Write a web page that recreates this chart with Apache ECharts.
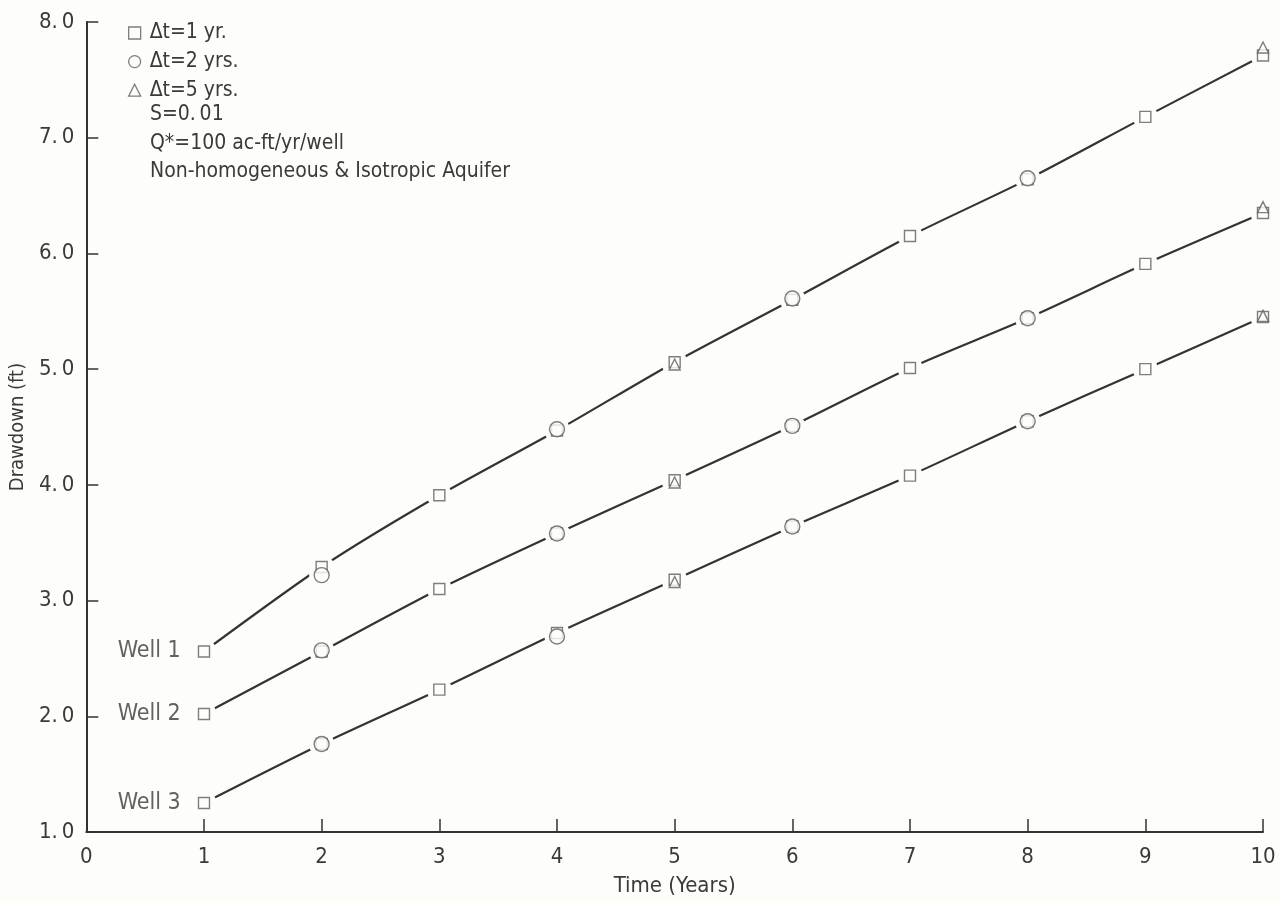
<!DOCTYPE html>
<html>
<head>
<meta charset="utf-8">
<script src="https://cdn.jsdelivr.net/npm/echarts@6/dist/echarts.min.js"></script>
<style>
html,body{margin:0;padding:0;background:#fdfdf9;}
#chart{width:1280px;height:902px;}
</style>
</head>
<body>
<div id="chart"></div>
<script>
// ---- data ----
const years = [1, 2, 3, 4, 5, 6, 7, 8, 9, 10];
const wellNames = ['Well 1', 'Well 2', 'Well 3'];
// Δt = 1 yr (every year)
const well1Dt1 = [2.56, 3.29, 3.91, 4.47, 5.06, 5.60, 6.15, 6.64, 7.18, 7.71];
const well2Dt1 = [2.02, 2.56, 3.10, 3.58, 4.04, 4.51, 5.01, 5.44, 5.91, 6.35];
const well3Dt1 = [1.25, 1.76, 2.23, 2.72, 3.18, 3.64, 4.08, 4.55, 5.00, 5.45];
// Δt = 2 yrs
const dt2Years = [2, 4, 6, 8];
const well1Dt2 = [3.22, 4.48, 5.61, 6.65];
const well2Dt2 = [2.57, 3.58, 4.51, 5.44];
const well3Dt2 = [1.76, 2.69, 3.64, 4.55];
// Δt = 5 yrs
const dt5Years = [5, 10];
const well1Dt5 = [5.04, 7.78];
const well2Dt5 = [4.02, 6.40];
const well3Dt5 = [3.16, 5.46];
const yTickLabels = {1: '1.\u20090', 2: '2.\u20090', 3: '3.\u20090', 4: '4.\u20090', 5: '5.\u20090', 6: '6.\u20090', 7: '7.\u20090', 8: '8.\u20090'};
const legendNames = ['\u0394t=1 yr.', '\u0394t=2 yrs.', '\u0394t=5 yrs.'];
const noteLines = ['S=0.\u200901', 'Q*=100 ac-ft/yr/well', 'Non-homogeneous & Isotropic Aquifer'];

const BG = '#fdfdf9';
const INK = '#333333';
const MARK = '#5e5e5e';
const TXT = '#3a3a3a';
const FONT = '"DejaVu Sans Condensed", "DejaVu Sans", sans-serif';

const dt1 = [well1Dt1, well2Dt1, well3Dt1];
const dt2 = [well1Dt2, well2Dt2, well3Dt2];
const dt5 = [well1Dt5, well2Dt5, well3Dt5];

const pair = (xs, ys) => xs.map((x, i) => [x, ys[i]]);

const series = [];
const markerStyle = {color: BG, borderColor: MARK, borderWidth: 1.4};

for (let w = 0; w < 3; w++) {
  series.push({
    type: 'line', name: wellNames[w], data: pair(years, dt1[w]),
    smooth: 0.25, showSymbol: false, symbol: 'none', z: 2,
    lineStyle: {color: INK, width: 2.2}, silent: true
  });
  // knockouts to create the small gaps around each marker
  const ko = pair(years, dt1[w]).concat(pair(dt2Years, dt2[w])).concat(pair(dt5Years, dt5[w]));
  series.push({
    type: 'scatter', name: 'gap' + w, data: ko, symbol: 'circle', symbolSize: 25, z: 3,
    itemStyle: {color: BG, borderWidth: 0, opacity: 1}, silent: true
  });
  const sq = pair(years, dt1[w]).map((p, i) => i === 0 ? {
    value: p,
    label: {show: true, position: 'left', distance: 17, formatter: wellNames[w],
      color: TXT, fontSize: 23, fontFamily: FONT}
  } : p);
  series.push({
    type: 'scatter', name: legendNames[0], data: sq, symbol: 'rect', symbolSize: 11, z: 4,
    itemStyle: markerStyle
  });
  series.push({
    type: 'scatter', name: legendNames[1], data: pair(dt2Years, dt2[w]), symbol: 'circle', symbolSize: 15, z: 5,
    itemStyle: markerStyle
  });
  series.push({
    type: 'scatter', name: legendNames[2], data: pair(dt5Years, dt5[w]), symbol: 'triangle', symbolSize: 11, z: 6,
    itemStyle: markerStyle
  });
}

const chart = echarts.init(document.getElementById('chart'), null, {renderer: 'canvas'});
chart.setOption({
  backgroundColor: BG,
  animation: false,
  grid: {left: 86, right: 17, top: 22, bottom: 67, containLabel: false},
  legend: {
    orient: 'vertical', left: 123, top: 16, itemGap: 4.6, itemWidth: 12, itemHeight: 12,
    data: [
      {name: legendNames[0], icon: 'rect', itemStyle: {color: BG, borderColor: MARK, borderWidth: 1.3}},
      {name: legendNames[1], icon: 'circle', itemStyle: {color: BG, borderColor: MARK, borderWidth: 1.3}},
      {name: legendNames[2], icon: 'triangle', itemStyle: {color: BG, borderColor: MARK, borderWidth: 1.3}}
    ],
    textStyle: {color: TXT, fontSize: 21, fontFamily: FONT, lineHeight: 24, padding: [0, 0, 0, 4]},
    selectedMode: false
  },
  graphic: noteLines.map((t, i) => ({
    type: 'text', left: 150, top: 104 + i * 28.6,
    style: {text: t, fill: TXT, fontSize: 21, fontFamily: FONT}
  })),
  xAxis: {
    type: 'value', min: 0, max: 10, interval: 1,
    name: 'Time (Years)', nameLocation: 'middle', nameGap: 43,
    nameTextStyle: {color: TXT, fontSize: 22, fontFamily: FONT},
    axisLine: {show: true, lineStyle: {color: INK, width: 2}},
    axisTick: {show: true, inside: true, length: 13, lineStyle: {color: INK, width: 1.5}},
    axisLabel: {color: TXT, fontSize: 22, fontFamily: FONT, margin: 14},
    splitLine: {show: false}
  },
  yAxis: {
    type: 'value', min: 1, max: 8, interval: 1,
    name: 'Drawdown (ft)', nameLocation: 'middle', nameGap: 58, nameRotate: 90,
    nameTextStyle: {color: TXT, fontSize: 20, fontFamily: FONT},
    axisLine: {show: true, lineStyle: {color: INK, width: 2}},
    axisTick: {show: true, inside: true, length: 12, lineStyle: {color: INK, width: 1.5}},
    axisLabel: {color: TXT, fontSize: 22, fontFamily: FONT, margin: 12,
      formatter: v => yTickLabels[v] || ''},
    splitLine: {show: false}
  },
  series: series
});
</script>
</body>
</html>
